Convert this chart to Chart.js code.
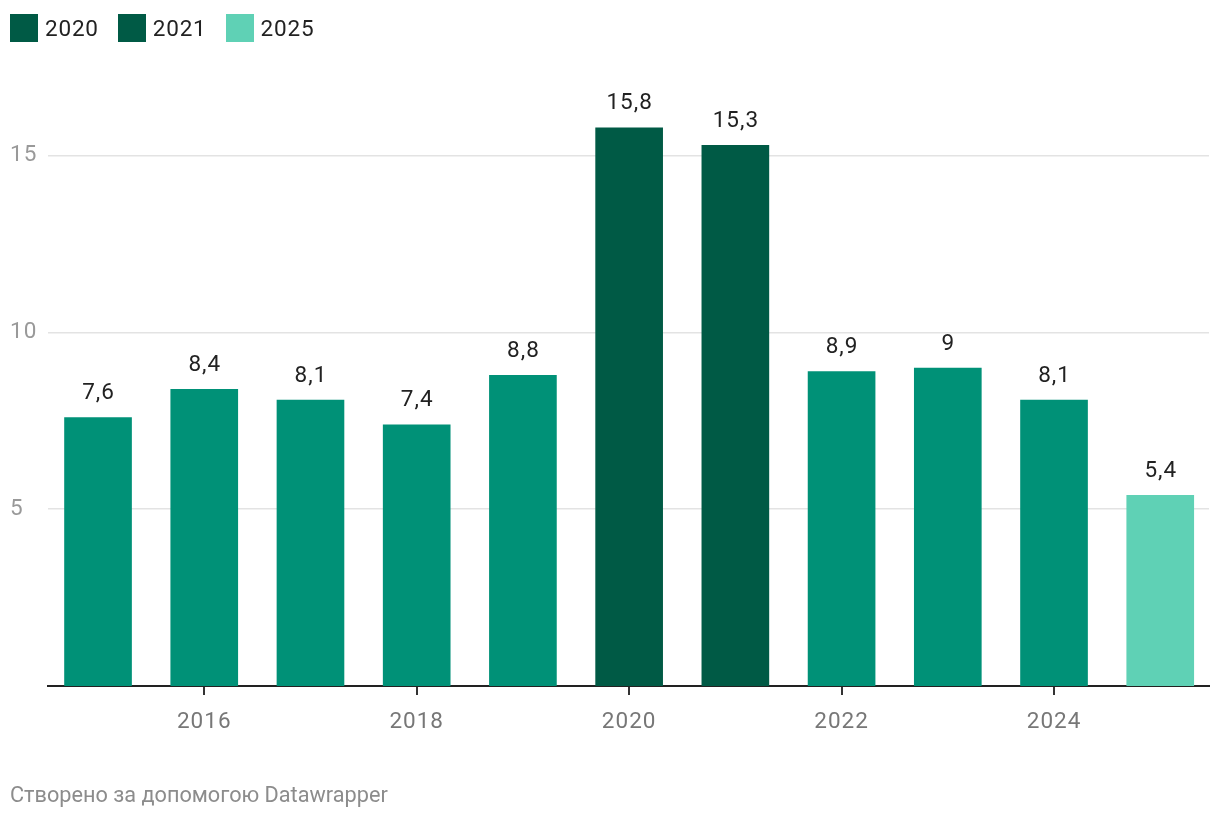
<!DOCTYPE html>
<html lang="uk">
<head>
<meta charset="utf-8">
<title>Chart</title>
<script src="https://cdn.jsdelivr.net/npm/chart.js@4.4.0/dist/chart.umd.min.js"></script>
<style>
  html, body { margin: 0; padding: 0; background: #fff; }
  body { width: 1220px; height: 818px; position: relative; overflow: hidden; font-family: Roboto, sans-serif; }
  #wrap { position: absolute; left: 0; top: 0; width: 1220px; height: 818px; }
  .legend { position: absolute; left: 10px; top: 14px; display: flex; color: #222; font-size: 22.5px; letter-spacing: 0.8px; }
  .legend .item { display: flex; align-items: center; margin-right: 19px; height: 28px; }
  .legend .sw { width: 28px; height: 28px; margin-right: 7px; }
  .note { position: absolute; left: 10px; top: 782px; font-size: 21.7px; color: #8c8c8c; }
</style>
</head>
<body>
<div id="wrap"><canvas id="chart" width="1220" height="818"></canvas></div>
<div class="legend" id="legend"></div>
<div class="note">Створено за допомогою Datawrapper</div>
<script>
const years = [2015, 2016, 2017, 2018, 2019, 2020, 2021, 2022, 2023, 2024, 2025];
const values = [7.6, 8.4, 8.1, 7.4, 8.8, 15.8, 15.3, 8.9, 9, 8.1, 5.4];
const xTicks = [2016, 2018, 2020, 2022, 2024];
const yTicks = [5, 10, 15];
const legendYears = ["2020", "2021", "2025"];

const baseColor = "#009177";
const darkColor = "#005a45";
const lightColor = "#5fd1b5";

const colorFor = (year) => {
  if (year === 2020 || year === 2021) return darkColor;
  if (year === 2025) return lightColor;
  return baseColor;
};

// legend
const legendEl = document.getElementById("legend");
legendYears.forEach((y) => {
  const item = document.createElement("div");
  item.className = "item";
  item.innerHTML = `<span class="sw" style="background:${colorFor(Number(y))}"></span><span>${y}</span>`;
  legendEl.appendChild(item);
});

// slightly wider text like the original
const spacing = {
  id: "spacing",
  beforeDraw(chart) {
    chart.ctx.letterSpacing = "1px";
  },
};

const valueLabels = {
  id: "valueLabels",
  afterDatasetsDraw(chart) {
    const ctx = chart.ctx;
    const meta = chart.getDatasetMeta(0);
    ctx.save();
    ctx.letterSpacing = "1px";
    ctx.font = "22.5px Roboto";
    ctx.fillStyle = "#222";
    ctx.textAlign = "center";
    ctx.textBaseline = "alphabetic";
    meta.data.forEach((bar, i) => {
      const txt = String(values[i]).replace(".", ",");
      ctx.fillText(txt, bar.x + 0.5, bar.y - 18);
    });
    ctx.restore();
  },
};

new Chart(document.getElementById("chart"), {
  type: "bar",
  data: {
    datasets: [
      {
        data: years.map((y, i) => ({ x: y, y: values[i] })),
        backgroundColor: years.map(colorFor),
        barPercentage: 0.637,
        categoryPercentage: 1,
      },
    ],
  },
  options: {
    responsive: false,
    animation: false,
    devicePixelRatio: 1,
    layout: { padding: { left: 10, right: 11, top: 85, bottom: 72 } },
    plugins: { legend: { display: false }, tooltip: { enabled: false } },
    scales: {
      x: {
        type: "linear",
        offset: false,
        min: 2014.529,
        max: 2025.459,
        afterBuildTicks: (scale) => {
          scale.ticks = xTicks.map((v) => ({ value: v }));
        },
        afterFit: (scale) => {
          scale.height = 60;
        },
        grid: {
          offset: false,
          drawOnChartArea: false,
          drawTicks: true,
          tickLength: 9,
          color: "#333",
          lineWidth: 2,
        },
        border: { display: true, color: "#222", width: 2 },
        ticks: {
          padding: 14,
          color: "#777",
          font: { family: "Roboto", size: 22.5 },
          callback: (v) => String(v),
          maxRotation: 0,
        },
      },
      y: {
        min: 0,
        max: 17,
        afterBuildTicks: (scale) => {
          scale.ticks = yTicks.map((v) => ({ value: v }));
        },
        afterFit: (scale) => {
          scale.width = 38;
        },
        grid: { color: "#e3e3e3", lineWidth: 1.5, drawTicks: false },
        border: { display: false },
        ticks: {
          padding: 0,
          crossAlign: "far",
          color: "#999",
          font: { family: "Roboto", size: 22.5 },
        },
      },
    },
  },
  plugins: [spacing, valueLabels],
});
</script>
</body>
</html>
